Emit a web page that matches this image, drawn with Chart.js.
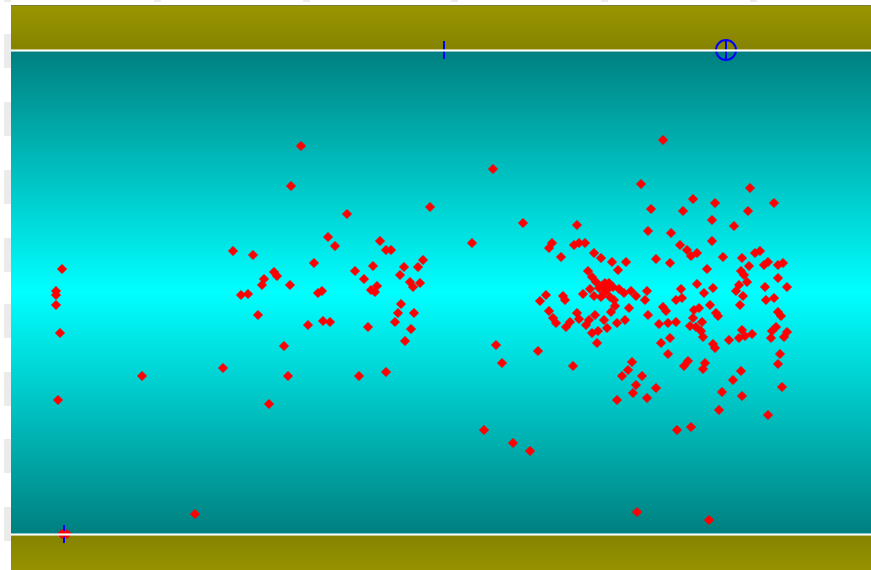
<!DOCTYPE html>
<html>
<head>
<meta charset="utf-8">
<script src="https://cdn.jsdelivr.net/npm/chart.js@4"></script>
<style>
    html, body { margin: 0; padding: 0; background: #fff; }
    canvas { display: block; }
</style>
</head>
<body>
<canvas id="chart" width="871" height="570"></canvas>
<script>
// control limits
const upperLimit = 52.0;
const lowerLimit = 3.6;
const centerLine = 27.8;

// cut-off label boxes left of / above the plot
const ghostYTicks = [51.85, 45.15, 38.35, 31.55, 24.85, 18.1, 11.4, 4.6];
const ghostXTicks = [-0.35, 14.65, 29.5, 44.3, 59.3, 74.2];

// [x, y] samples
const leftSamples = [
    [5.1, 30.1], [4.5, 27.9], [4.5, 27.5], [4.5, 26.5], [4.9, 23.7], [4.7, 17.0], [5.1, 3.6], [5.6, 3.6],
    [13.1, 19.4], [18.4, 5.6], [21.2, 20.2], [22.2, 31.9], [24.2, 31.5], [23.0, 27.5], [23.7, 27.6],
    [24.7, 25.5], [25.1, 28.5], [25.3, 29.1], [26.3, 29.8], [26.6, 29.4], [27.9, 28.5], [27.3, 22.4],
    [27.7, 19.4], [25.8, 16.6], [28.0, 38.4], [29.0, 42.4]
];
const middleSamples = [
    [29.7, 24.5], [30.3, 30.7], [30.7, 27.7], [31.1, 27.9], [31.2, 24.9], [31.9, 24.8], [31.7, 33.3],
    [32.4, 32.4], [33.6, 35.6], [34.4, 29.9], [34.8, 19.4], [35.3, 29.1], [35.7, 24.3], [36.0, 28.0],
    [36.2, 30.4], [36.4, 27.8], [36.6, 28.4], [36.9, 32.9], [37.5, 32.0], [38.0, 32.0], [37.5, 19.8],
    [38.4, 24.8], [38.7, 25.7], [39.0, 26.6], [38.9, 29.5], [39.3, 30.3], [39.4, 22.9], [39.9, 28.8],
    [40.0, 24.1], [40.3, 25.7], [40.2, 28.3], [40.9, 28.7], [40.7, 30.3], [41.2, 31.0], [41.9, 36.3],
    [46.1, 32.7], [48.2, 40.1], [47.3, 14.0], [48.5, 22.5], [49.1, 20.7], [50.2, 12.7], [51.2, 34.7],
    [51.9, 11.9], [52.7, 21.9]
];
const rightSamples = [
    [52.9, 26.9], [53.5, 27.5], [53.8, 32.2], [54.1, 32.7], [53.8, 25.9], [54.2, 25.2], [54.5, 24.7], [55.0, 31.3],
    [55.2, 27.4], [55.4, 27.0], [55.5, 24.3], [55.9, 24.8], [56.2, 20.4], [56.3, 32.5], [56.6, 34.5], [56.8, 32.7],
    [56.6, 25.7], [56.8, 25.1], [57.4, 32.7], [57.2, 27.6], [57.5, 24.5], [57.8, 25.0], [57.7, 29.9], [57.9, 28.1],
    [58.1, 29.3], [58.3, 31.7], [58.3, 27.4], [58.1, 23.7], [58.4, 25.5], [58.5, 28.8], [58.6, 22.7], [58.7, 23.9],
    [58.8, 28.2], [59.0, 31.2], [59.0, 27.3], [59.1, 28.4], [59.3, 27.7], [59.4, 28.7], [59.6, 28.0], [59.3, 25.0],
    [59.6, 24.2], [59.8, 28.7], [59.9, 27.3], [60.0, 25.8], [60.1, 30.8], [60.2, 28.3], [60.3, 27.0], [60.4, 26.4],
    [60.6, 24.7], [60.7, 30.0], [60.6, 17.0], [60.8, 28.1], [61.1, 19.4], [61.3, 27.7], [61.4, 25.0], [61.5, 30.8],
    [61.7, 20.0], [61.8, 26.2], [62.0, 27.9], [62.1, 20.8], [62.2, 17.7], [62.5, 27.4], [62.5, 18.5], [62.6, 5.8],
    [63.0, 38.6], [63.1, 19.4], [63.4, 27.0], [63.6, 27.9], [63.6, 17.2], [63.7, 33.9], [63.7, 25.5], [64.0, 36.1],
    [64.5, 31.1], [64.5, 18.2], [64.8, 24.6], [65.0, 22.7], [65.2, 43.0], [65.2, 26.3], [65.5, 25.9], [65.7, 24.7],
    [65.7, 21.6], [65.9, 30.7], [66.0, 33.7], [65.9, 23.2], [66.5, 27.0], [66.5, 24.8], [66.6, 14.0], [66.9, 32.5],
    [67.0, 28.1], [67.1, 27.2], [67.2, 35.9], [67.3, 20.4], [67.6, 32.0], [67.7, 20.9], [67.9, 24.4], [68.0, 31.4],
    [68.0, 14.3], [68.2, 37.1], [68.2, 25.2], [68.3, 26.0], [68.5, 24.3], [68.6, 31.7], [68.6, 28.6], [68.8, 26.2],
    [69.0, 23.9], [69.1, 24.8], [69.2, 23.3], [69.2, 20.1], [69.3, 27.7], [69.4, 20.7], [69.6, 30.1], [69.8, 5.0],
    [69.9, 26.5], [70.1, 35.0], [70.1, 32.9], [70.2, 28.2], [70.2, 22.6], [70.4, 36.7], [70.4, 22.2], [70.5, 25.7],
    [70.7, 25.4], [70.8, 16.0], [71.1, 17.8], [71.2, 31.3], [71.8, 23.0], [72.2, 19.0], [72.3, 34.4], [72.5, 27.9],
    [72.8, 28.5], [72.8, 23.2], [72.9, 26.5], [73.0, 29.9], [73.0, 19.9], [73.1, 31.2], [73.1, 24.0], [73.1, 17.4],
    [73.2, 27.4], [73.3, 29.5], [73.4, 23.4], [73.6, 28.8], [73.7, 35.9], [73.8, 30.4], [73.9, 38.2], [74.1, 23.6],
    [74.4, 31.7], [74.9, 31.9], [75.3, 30.5], [75.4, 28.3], [75.5, 27.0], [75.7, 30.8], [75.7, 15.5], [76.0, 23.2],
    [76.1, 23.9], [76.3, 36.7], [76.3, 27.2], [76.5, 24.3], [76.7, 30.5], [76.7, 29.2], [76.7, 25.8], [76.7, 20.6],
    [76.9, 21.6], [77.0, 25.4], [77.1, 18.3], [77.2, 30.7], [77.3, 23.3], [77.6, 28.3], [77.6, 23.8]
];

// blue flags on the limits
const flagBars = [[43.3, 52.0], [5.3, 3.6]];
const flagRings = [[71.5, 52.0]];

function toPoints(list) {
    return list.map(([x, y]) => ({x: x, y: y}));
}

const bands = {
    id: "bands",
    beforeDatasetsDraw: function(chart) {
        const {ctx, chartArea: a, scales: {y}} = chart;
        const top = Math.round(y.getPixelForValue(upperLimit));
        const bottom = Math.round(y.getPixelForValue(lowerLimit));
        const mid = y.getPixelForValue(centerLine);
        const w = a.right - a.left;
        ctx.save();

        let g = ctx.createLinearGradient(0, a.top, 0, top);
        g.addColorStop(0, "#999600");
        g.addColorStop(1, "#858300");
        ctx.fillStyle = g;
        ctx.fillRect(a.left, a.top, w, top - a.top);

        g = ctx.createLinearGradient(0, bottom, 0, bottom + (top - a.top));
        g.addColorStop(0, "#858300");
        g.addColorStop(1, "#999600");
        ctx.fillStyle = g;
        ctx.fillRect(a.left, bottom, w, a.bottom - bottom);

        g = ctx.createLinearGradient(0, top, 0, bottom);
        g.addColorStop(0, "#007f7f");
        g.addColorStop((mid - top) / (bottom - top), "#00ffff");
        g.addColorStop(1, "#007f7f");
        ctx.fillStyle = g;
        ctx.fillRect(a.left, top, w, bottom - top);

        ctx.fillStyle = "#7d7b45";
        ctx.fillRect(a.left, a.top, w, 1);
        ctx.restore();
    },
    afterDatasetsDraw: function(chart) {
        const {ctx, chartArea: a, scales: {y}} = chart;
        const w = a.right - a.left;
        ctx.save();
        [upperLimit, lowerLimit].forEach(v => {
            const p = Math.round(y.getPixelForValue(v));
            ctx.fillStyle = "rgba(255,255,255,0.55)";
            ctx.fillRect(a.left, p - 1, w, 1);
            ctx.fillRect(a.left, p + 1, w, 1);
            ctx.fillStyle = "#ffffff";
            ctx.fillRect(a.left, p, w, 1);
        });
        ctx.restore();
    },
    afterDraw: function(chart) {
        const {ctx, scales: {x, y}} = chart;
        ctx.save();
        ctx.fillStyle = "#ebebeb";
        ghostYTicks.forEach(v => {
            const p = y.getPixelForValue(v);
            ctx.fillRect(4, Math.round(p - 17), 7, 34);
        });
        ghostXTicks.forEach(v => {
            const p = x.getPixelForValue(v);
            ctx.fillRect(Math.round(p - 3.5), 0, 7, 2);
        });
        ctx.restore();
    }
};

new Chart(document.getElementById("chart"), {
    type: "scatter",
    data: {
        datasets: [
            {
                data: toPoints(leftSamples.concat(middleSamples, rightSamples)),
                pointStyle: "rectRot",
                pointRadius: 4.5,
                pointBackgroundColor: "#ff0000",
                pointBorderColor: "#ff0000",
                pointBorderWidth: 1,
                order: 0
            },
            {
                data: toPoints(flagBars),
                pointStyle: "line",
                pointRotation: 90,
                pointRadius: 9,
                pointBorderColor: "#0000ff",
                pointBorderWidth: 2,
                order: 1
            },
            {
                data: toPoints(flagRings),
                pointStyle: "circle",
                pointRadius: 10,
                pointBackgroundColor: "rgba(0,0,0,0)",
                pointBorderColor: "#0000ff",
                pointBorderWidth: 2,
                order: 1
            },
            {
                data: toPoints(flagRings),
                pointStyle: "line",
                pointRotation: 90,
                pointRadius: 10,
                pointBorderColor: "#0000ff",
                pointBorderWidth: 2,
                order: 1
            }
        ]
    },
    options: {
        responsive: false,
        animation: false,
        events: [],
        layout: {autoPadding: false, padding: {left: 11, top: 5, right: 0, bottom: 0}},
        plugins: {legend: {display: false}, tooltip: {enabled: false}},
        scales: {
            x: {type: "linear", min: 0, max: 86, display: false},
            y: {type: "linear", min: 0, max: 56.5, display: false}
        }
    },
    plugins: [bands]
});
</script>
</body>
</html>
